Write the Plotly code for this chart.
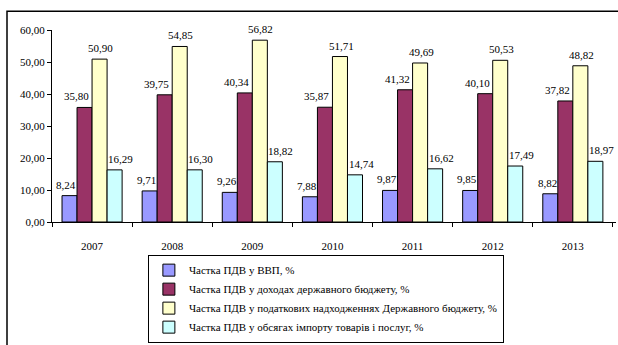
import plotly.graph_objects as go

years = ["2007", "2008", "2009", "2010", "2011", "2012", "2013"]
vvp = [8.24, 9.71, 9.26, 7.88, 9.87, 9.85, 8.82]
dokhody = [35.80, 39.75, 40.34, 35.87, 41.32, 40.10, 37.82]
podatkovi = [50.90, 54.85, 56.82, 51.71, 49.69, 50.53, 48.82]
import_share = [16.29, 16.30, 18.82, 14.74, 16.62, 17.49, 18.97]

names = [
    "Частка ПДВ у ВВП, %",
    "Частка ПДВ у доходах державного бюджету, %",
    "Частка ПДВ у податкових надходженнях Державного бюджету, %",
    "Частка ПДВ у обсягах імпорту товарів і послуг, %",
]
colors = ["#9999FF", "#993366", "#FFFFCC", "#CCFFFF"]
series = [vvp, dokhody, podatkovi, import_share]

FONT = "Liberation Serif, Times New Roman, serif"

W, H = 618, 345
ML, MR, MT, MB = 52, 2, 30, 111
BARGAP = 0.25
plot_w = W - ML - MR
cat_w = plot_w / len(years)
bar_w = cat_w * (1 - BARGAP) / len(series)
label_nudge = [-3, -8, 1, 6]

fig = go.Figure()
annotations = []
for i, (name, vals, col) in enumerate(zip(names, series, colors)):
    fig.add_trace(go.Bar(
        x=years, y=vals, name=name,
        marker=dict(color=col, line=dict(color="#000000", width=1)),
    ))
    shift = (i - (len(series) - 1) / 2) * bar_w + label_nudge[i]
    for j, v in enumerate(vals):
        annotations.append(dict(
            x=j, y=v, xref="x", yref="y",
            text=f"{v:.2f}".replace(".", ","),
            showarrow=False, xanchor="center", yanchor="bottom",
            xshift=shift, yshift=3,
            font=dict(family=FONT, size=11, color="#000000"),
        ))

fig.update_layout(
    width=W, height=H,
    margin=dict(l=ML, r=MR, t=MT, b=MB),
    paper_bgcolor="white", plot_bgcolor="white",
    barmode="group", bargap=BARGAP, bargroupgap=0,
    separators=", ",
    font=dict(family=FONT, size=11, color="#000000"),
    showlegend=True,
    annotations=annotations,
    legend=dict(
        x=0.17, y=-0.17, xanchor="left", yanchor="top",
        bordercolor="#000000", borderwidth=1, bgcolor="white",
        font=dict(family=FONT, size=11, color="#000000"),
        itemwidth=30, traceorder="normal",
    ),
    xaxis=dict(
        type="category",
        showline=True, linecolor="#000000", linewidth=1,
        ticks="outside", ticklen=4, tickcolor="#000000",
        tickson="boundaries", showgrid=False,
        ticklabelstandoff=14,
        tickfont=dict(family=FONT, size=11),
    ),
    yaxis=dict(
        range=[0, 60], tickvals=[0, 10, 20, 30, 40, 50, 60],
        tickformat=".2f",
        showline=True, linecolor="#000000", linewidth=1,
        ticks="outside", ticklen=4, tickcolor="#000000",
        showgrid=False, zeroline=False,
        tickfont=dict(family=FONT, size=11),
    ),
    shapes=[dict(
        type="rect", xref="paper", yref="paper",
        x0=-45 / 564, x1=1.3, y0=-1.0, y1=(234 - 10) / 204,
        line=dict(color="#000000", width=1.5), fillcolor="rgba(0,0,0,0)",
        layer="below",
    )],
)

fig.write_html("out.html")
